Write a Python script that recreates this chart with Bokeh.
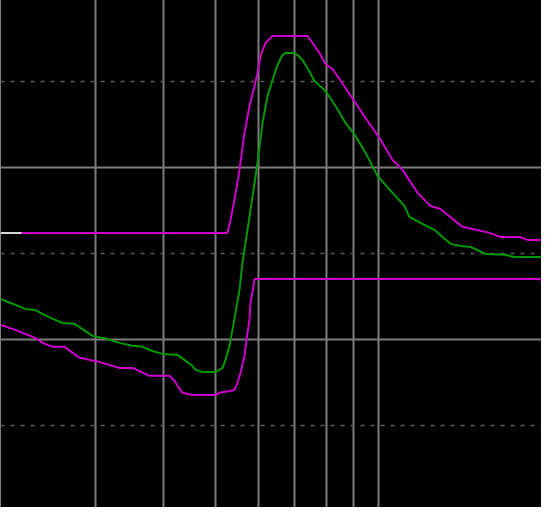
from bokeh.plotting import figure
from bokeh.models import Range1d, FixedTicker
from bokeh.embed import file_html
from bokeh.resources import INLINE

# ---- data ----
grid_freq = [3, 4, 5, 6, 7, 8, 9, 10]
major_db = [-30, -20, -10, 0]
minor_db = [-25, -15, -5]

upper_f = [2.000, 5.256, 5.323, 5.414, 5.531, 5.650, 5.771, 5.896, 5.972, 6.049,
           6.179, 6.366, 7.389, 7.776, 7.977, 8.219, 8.687, 9.066, 9.460, 9.827,
           10.04, 10.61, 11.07, 11.80, 12.47, 13.01, 14.29, 14.91, 16.03, 16.80,
           18.22, 18.85, 20.0]
upper_db = [-13.80, -13.80, -13.05, -11.88, -10.13, -7.98, -6.41, -5.24, -4.48, -3.49,
            -2.74, -2.33, -2.33, -3.32, -3.96, -4.25, -5.36, -6.23, -7.11, -7.86,
            -8.27, -9.55, -10.13, -11.47, -12.23, -12.41, -13.45, -13.57, -13.80, -14.04,
            -14.04, -14.21, -14.21]

green_f = [2.000, 2.224, 2.312, 2.474, 2.605, 2.741, 2.959, 3.153, 3.319, 3.508,
           3.660, 3.820, 3.985, 4.248, 4.528, 4.587, 4.726, 4.994, 5.145, 5.211,
           5.300, 5.368, 5.437, 5.531, 5.602, 5.674, 5.796, 5.972, 6.100, 6.232,
           6.366, 6.502, 6.643, 6.728, 6.991, 7.111, 7.233, 7.420, 7.612, 7.977,
           8.324, 8.687, 9.066, 9.460, 9.953, 10.61, 11.16, 11.40, 12.05, 12.68,
           13.58, 14.17, 14.79, 15.76, 17.16, 17.83, 20.0]
green_db = [-17.65, -18.23, -18.29, -18.75, -19.05, -19.10, -19.80, -19.98, -20.21, -20.38,
            -20.44, -20.68, -20.85, -20.91, -21.55, -21.78, -21.90, -21.90, -21.67, -21.20,
            -20.38, -19.45, -18.46, -17.12, -15.55, -14.39, -12.46, -9.73, -7.40, -5.82,
            -4.89, -4.02, -3.44, -3.32, -3.32, -3.49, -3.73, -4.31, -4.95, -5.53,
            -6.41, -7.40, -8.15, -9.14, -10.48, -11.47, -12.23, -12.87, -13.28, -13.63,
            -14.44, -14.56, -14.62, -15.03, -15.08, -15.20, -15.20]

lower_f = [2.000, 2.132, 2.224, 2.321, 2.392, 2.496, 2.627, 2.799, 2.921, 2.997,
           3.180, 3.319, 3.508, 3.771, 4.106, 4.194, 4.248, 4.339, 4.528, 4.994,
           5.080, 5.300, 5.414, 5.484, 5.554, 5.650, 5.698, 5.771, 5.796, 5.871,
           5.896, 19.92, 20.0]
lower_db = [-19.16, -19.45, -19.69, -19.92, -20.21, -20.44, -20.44, -21.08, -21.20, -21.26,
            -21.49, -21.67, -21.67, -22.13, -22.13, -22.42, -22.71, -23.12, -23.24, -23.24,
            -23.12, -23.01, -22.95, -22.54, -21.96, -20.97, -20.03, -18.87, -17.88, -16.89,
            -16.48, -16.48, -16.60]

marker_f = [2.0, 2.187]
marker_db = [-13.80, -13.80]

# ---- figure ----
p = figure(width=541, height=512, x_axis_type="log",
           x_range=Range1d(2, 20), y_range=Range1d(-29.80, 0.03),
           output_backend="svg", toolbar_location=None, min_border=0,
           background_fill_color="black", border_fill_color="black",
           outline_line_color=None)
p.margin = (-5, 0, -8, 0)
p.xaxis.visible = False
p.yaxis.visible = False

p.xgrid.ticker = FixedTicker(ticks=grid_freq)
p.xgrid.grid_line_color = "#7c7c7c"
p.xgrid.grid_line_width = 2

p.ygrid.ticker = FixedTicker(ticks=major_db, minor_ticks=minor_db)
p.ygrid.grid_line_color = "#7c7c7c"
p.ygrid.grid_line_width = 2
p.ygrid.minor_grid_line_color = "#5a5a5a"
p.ygrid.minor_grid_line_width = 1.5
p.ygrid.minor_grid_line_dash = "4 6"

p.line(lower_f, lower_db, line_color="#cc00cc", line_width=2)
p.line(green_f, green_db, line_color="#009900", line_width=2)
p.line(upper_f, upper_db, line_color="#cc00cc", line_width=2)
p.line(marker_f, marker_db, line_color="#d8d8d8", line_width=2)

open("out.html", "w").write(file_html(p, INLINE))
